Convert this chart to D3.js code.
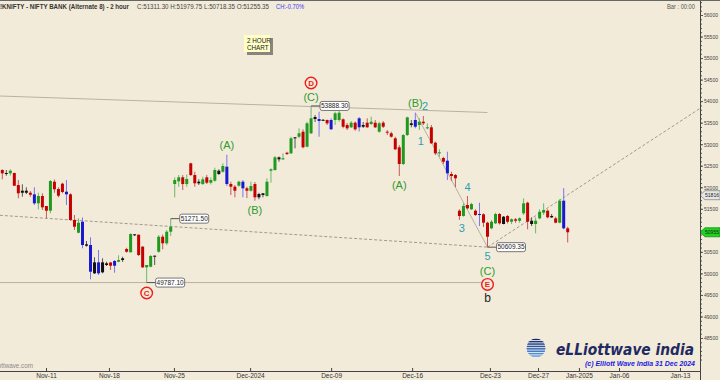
<!DOCTYPE html>
<html>
<head>
<meta charset="utf-8">
<script src="https://cdn.jsdelivr.net/npm/d3@7/dist/d3.min.js"></script>
<style>
  html, body { margin: 0; padding: 0; background: #f3ebd9; }
  svg { display: block; font-family: "Liberation Sans", Arial, sans-serif; }
</style>
</head>
<body>
<svg id="chart" width="720" height="380"></svg>
<script>
// 2-hour bars, [open, high, low, close]
const bars = [
  [52401, 52417, 52185, 52324], [52331, 52401, 52268, 52308], [52324, 52417, 52273, 52384], [52331, 52338, 52029, 52036],
  [52052, 52168, 51743, 51860], [51920, 52069, 51781, 51873], [51873, 51999, 51843, 51920], [51873, 51913, 51781, 51827],
  [51836, 51999, 51588, 51627], [51627, 51873, 51488, 51797], [51797, 51860, 51472, 51534], [51565, 51565, 51279, 51456],
  [51456, 52168, 51395, 52145], [52129, 52180, 51873, 51953], [51959, 51999, 51767, 51804], [52083, 52106, 51860, 51890],
  [51897, 52168, 51588, 51836], [51836, 51860, 51223, 51240], [51240, 51356, 51007, 51084], [50945, 51279, 50931, 51177],
  [51200, 51298, 50583, 50659], [50675, 50752, 50620, 50643], [50659, 50838, 49863, 50039], [50257, 50374, 49986, 50002],
  [50002, 50543, 49963, 50257], [50257, 50350, 50002, 50025], [50234, 50271, 50172, 50195], [50253, 50264, 50079, 50178],
  [50178, 50311, 50016, 50288], [50271, 50420, 50257, 50311], [50350, 50387, 50264, 50311], [50566, 50596, 50480, 50503],
  [50490, 50931, 50485, 50915], [50908, 50915, 50868, 50884], [50898, 50903, 50404, 50427], [50620, 50636, 50125, 50141],
  [50141, 50195, 49787.10, 50195], [50155, 50427, 50141, 50404], [50411, 50415, 50195, 50397], [50503, 50891, 50480, 50852],
  [50852, 50903, 50559, 50699], [50699, 51007, 50659, 50968], [50968, 51271.50, 50868, 51084],
  // Nov-25 gap up
  [52075, 52231, 51767, 52168], [52138, 52284, 52013, 52231], [52231, 52284, 51936, 52075], [52075, 52296, 52013, 52192],
  [52556, 52570, 52261, 52284], [52284, 52361, 52013, 52092], [52129, 52185, 52052, 52092], [52075, 52245, 52052, 52185],
  [52231, 52284, 52075, 52106], [52106, 52231, 52064, 52168], [52152, 52454, 52129, 52401], [52384, 52417, 52284, 52308],
  [52361, 52556, 52338, 52494], [52477, 52756, 52029, 52075], [52075, 52129, 51820, 52013], [52013, 52052, 51767, 51920],
  [52036, 52152, 52013, 52129], [52129, 52168, 51767, 51976], [51976, 52013, 51750, 51920], [51920, 52129, 51897, 52029],
  [52075, 52122, 51688, 51767], [51843, 51873, 51720, 51767], [51860, 51867, 51767, 51820], [51797, 52208, 51781, 52129],
  [52384, 52440, 52106, 52417], [52401, 52726, 52384, 52695], [52695, 52714, 52593, 52649], [52649, 52788, 52633, 52672],
  [52802, 52826, 52749, 52772], [52788, 53174, 52772, 53137], [53160, 53167, 52904, 53137], [53174, 53369, 53137, 53253],
  [53290, 53346, 52904, 52928], [52942, 53522, 52928, 53485], [53253, 53888.30, 53236, 53601], [53631, 53678, 53515, 53585],
  [53585, 53754, 53174, 53538], [53566, 53585, 53538, 53550], [53562, 53573, 53446, 53485], [53562, 53601, 53329, 53346],
  [53562, 53754, 53446, 53717], [53562, 53771, 53522, 53731], [53578, 53601, 53369, 53406], [53446, 53492, 53329, 53369],
  [53392, 53538, 53376, 53499], [53499, 53527, 53313, 53346], [53601, 53631, 53295, 53392], [53446, 53515, 53376, 53406],
  [53499, 53601, 53381, 53392], [53469, 53638, 53446, 53522], [53499, 53562, 53376, 53392], [53290, 53522, 53267, 53485],
  [53499, 53538, 53376, 53406], [53290, 53329, 53213, 53267], [53253, 53290, 53151, 53174], [53137, 53174, 52865, 52881],
  [52928, 52981, 52261, 52540], [52540, 53236, 52517, 53213], [53213, 53638, 53190, 53624], [53485, 53562, 53392, 53446],
  [53406, 53731, 53369, 53562], [53446, 53601, 53329, 53522], [53522, 53655, 53446, 53485], [53369, 53485, 53346, 53392],
  [53392, 53446, 53004, 53021], [53035, 53058, 52749, 52788], [52788, 52881, 52709, 52812], [52679, 52709, 52540, 52593],
  [52617, 52826, 52168, 52324], [52308, 52361, 52145, 52261], [52284, 52308, 52006, 52208], [51456, 51488, 51240, 51333],
  [51333, 51627, 51316, 51565], [51588, 51797, 51488, 51511], [51488, 51641, 51472, 51611], [51456, 51488, 51333, 51356],
  [51379, 51641, 51100, 51363], [51372, 51395, 51077, 51177], [51177, 51200, 50609.35, 50852], [51047, 51240, 51024, 51200],
  [51163, 51409, 51147, 51379], [51379, 51402, 51135, 51163], [51316, 51333, 51140, 51147], [51333, 51356, 51163, 51200],
  [51200, 51279, 51147, 51256], [51256, 51286, 51177, 51223], [51223, 51302, 51177, 51279], [51395, 51743, 51356, 51627],
  [51641, 51665, 51024, 51200], [51223, 51302, 51100, 51147], [51147, 51298, 50931, 51223], [51279, 51488, 51256, 51432],
  [51409, 51627, 51356, 51472], [51456, 51488, 51279, 51302], [51333, 51379, 51286, 51302], [51279, 51316, 51163, 51177],
  [51177, 51720, 51163, 51688], [51688, 51979.75, 51024, 51047], [51047, 51084, 50718.35, 50955]
];

// date axis, positions given in bar numbers
const dateLabels = ["Nov-11", "Nov-18", "Nov-25", "Dec-2024", "Dec-09", "Dec-16", "Dec-23", "Dec-27", "Jan-2025", "Jan-06", "Jan-13"];
const dateBars = [10.9, 26.6, 42.8, 61.8, 82, 102.2, 121.6, 133.6, 143.8, 153.8, 169];

const priceTicks = d3.range(48500, 56001, 500);
const minorTicks = d3.range(48000, 56400, 100);

// trend lines: [bar, price] -> [bar, price]
const solidLines = [
  [[-0.6, 54119], [121, 53736]],
  [[103, 53731], [121, 50609.35]],
  [[-0.6, 49787.10], [119.5, 49787.10]]
];
const dashedLines = [
  [[-0.6, 51349], [121, 50609.35]],
  [[121, 50609.35], [174, 53831]]
];

// price call-outs: [bar, price]
const callouts = [[77, 53888.30], [42, 51271.50], [36, 49787.10], [121, 50609.35]];

// wave counts: [bar, price, text]
const primaryWaves = [[77, 54421, "D"], [36, 49545, "C"], [121, 49745, "E"]];
const intermediateWaves = [
  [77, 54096, "(C)"], [56, 52981, "(A)"], [63, 51472, "(B)"], [103, 53956, "(B)"],
  [99, 52052, "(A)"], [121, 50055, "(C)"]
];
const minorWaves = [[105.4, 53887, "2"], [104.4, 53074, "1"], [116, 52006, "4"], [114.6, 51054, "3"], [121, 50404, "5"]];
const subWaves = [[121, 49428, "b"]];

const refPrice = 51816;
const lastPrice = 50955;

const W = 720, H = 380;
const plotRight = 700, plotBottom = 371;
const bg = "#f3ebd9";

const svg = d3.select("#chart");
svg.append("rect").attr("width", W).attr("height", H).attr("fill", bg);

const x = d3.scaleLinear().domain([0, bars.length - 1]).range([2.3, 567.7]);
const y = d3.scaleLinear().domain([48500, 56000]).range([338, 15]);

svg.append("clipPath").attr("id", "plot")
  .append("rect").attr("x", 0).attr("y", 0).attr("width", plotRight).attr("height", plotBottom);

const plot = svg.append("g").attr("clip-path", "url(#plot)");

// outside bars blue, inside bars black, otherwise up/down
function barColor(d, i) {
  if (i > 0) {
    const p = bars[i - 1];
    if (d[1] > p[1] && d[2] < p[2]) return "blue";
    if (d[1] <= p[1] && d[2] >= p[2]) return "black";
  }
  return d[3] >= d[0] ? "green" : "red";
}
const bodyFill = { green: "#1f9a1f", red: "#c40000", blue: "#1818d0", black: "#111" };
const wickFill = { green: "#6ab86a", red: "#c45a5a", blue: "#7777ee", black: "#555" };

// trend lines
const line = d3.line().x(d => x(d[0])).y(d => y(d[1]));
plot.selectAll(".solid").data(solidLines).enter().append("path")
  .attr("d", line).attr("fill", "none").attr("stroke", "#b9b1a3").attr("stroke-width", 1);
plot.selectAll(".dashed").data(dashedLines).enter().append("path")
  .attr("d", line).attr("fill", "none").attr("stroke", "#9f9a92").attr("stroke-width", 1)
  .attr("stroke-dasharray", "3,2");

// candles
const candle = plot.selectAll(".candle").data(bars).enter().append("g");
candle.append("line")
  .attr("x1", (d, i) => x(i)).attr("x2", (d, i) => x(i))
  .attr("y1", d => y(d[1])).attr("y2", d => y(d[2]))
  .attr("stroke", (d, i) => wickFill[barColor(d, i)]).attr("stroke-width", 1);
candle.append("rect")
  .attr("x", (d, i) => x(i) - 1.5).attr("width", 3)
  .attr("y", d => y(Math.max(d[0], d[3])))
  .attr("height", d => Math.max(1, Math.abs(y(d[0]) - y(d[3]))))
  .attr("fill", (d, i) => bodyFill[barColor(d, i)]);

// price call-outs
const fmt2 = d3.format(".2f");
const co = plot.selectAll(".callout").data(callouts).enter().append("g");
co.append("line")
  .attr("x1", d => x(d[0])).attr("x2", d => x(d[0]) + 9)
  .attr("y1", d => y(d[1])).attr("y2", d => y(d[1]))
  .attr("stroke", "#555").attr("stroke-width", 1);
co.append("rect")
  .attr("x", d => x(d[0]) + 9).attr("y", d => y(d[1]) - 4.5)
  .attr("width", 29).attr("height", 9).attr("rx", 2)
  .attr("fill", "#fff").attr("stroke", "#555").attr("stroke-width", 0.8);
co.append("text")
  .attr("x", d => x(d[0]) + 23.5).attr("y", d => y(d[1])).attr("dy", "0.35em")
  .attr("text-anchor", "middle").attr("font-size", 6.5).attr("fill", "#222")
  .text(d => fmt2(d[1]));

// wave labels
plot.selectAll(".iw").data(intermediateWaves).enter().append("text")
  .attr("x", d => x(d[0])).attr("y", d => y(d[1])).attr("dy", "0.35em")
  .attr("text-anchor", "middle").attr("font-size", 11).attr("fill", "#2e9a2e")
  .text(d => d[2]);
plot.selectAll(".mw").data(minorWaves).enter().append("text")
  .attr("x", d => x(d[0])).attr("y", d => y(d[1])).attr("dy", "0.35em")
  .attr("text-anchor", "middle").attr("font-size", 11).attr("fill", "#2a9fb0")
  .text(d => d[2]);
plot.selectAll(".sw").data(subWaves).enter().append("text")
  .attr("x", d => x(d[0])).attr("y", d => y(d[1])).attr("dy", "0.35em")
  .attr("text-anchor", "middle").attr("font-size", 12).attr("fill", "#222")
  .text(d => d[2]);
const pw = plot.selectAll(".pw").data(primaryWaves).enter().append("g")
  .attr("transform", d => `translate(${x(d[0])},${y(d[1])})`);
pw.append("circle").attr("r", 5.8).attr("fill", "none").attr("stroke", "#ee1c1c").attr("stroke-width", 1.4);
pw.append("text").attr("dy", "0.36em").attr("text-anchor", "middle")
  .attr("font-size", 8).attr("font-weight", "bold").attr("fill", "#ee1c1c").text(d => d[2]);

// "2 HOUR CHART" note
svg.append("rect").attr("x", 247).attr("y", 38).attr("width", 26).attr("height", 17).attr("fill", "#8a857c");
svg.append("rect").attr("x", 244).attr("y", 35).attr("width", 26).attr("height", 17).attr("fill", "#ffffc6");
svg.append("text").attr("x", 247).attr("y", 42.5).attr("font-size", 6.3).attr("fill", "#222").text("2 HOUR");
svg.append("text").attr("x", 247).attr("y", 50).attr("font-size", 6.3).attr("fill", "#222").text("CHART");

// right price axis (labels hidden under the price tags)
const tagged = [refPrice, lastPrice];
const axisTicks = priceTicks.filter(p => tagged.every(t => Math.abs(y(p) - y(t)) > 6));
svg.append("g").attr("transform", `translate(${plotRight},0)`)
  .call(d3.axisRight(y).tickValues(minorTicks).tickSize(2).tickFormat(""))
  .call(g => g.select(".domain").remove())
  .call(g => g.selectAll("line").attr("stroke", "#555"));
svg.append("g").attr("transform", `translate(${plotRight},0)`)
  .call(d3.axisRight(y).tickValues(axisTicks).tickSize(3).tickPadding(1).tickFormat(d3.format("d")))
  .call(g => g.select(".domain").remove())
  .call(g => g.selectAll("line").attr("stroke", "#555"))
  .call(g => g.selectAll("text").attr("font-size", 5.8).attr("fill", "#444")
    .attr("textLength", 14).attr("lengthAdjust", "spacingAndGlyphs")
    .attr("font-family", "'Liberation Sans', Arial, sans-serif"));

// price tags
function tag(price, fill, stroke) {
  const ty = y(price);
  svg.append("path")
    .attr("d", `M${plotRight},${ty} L${plotRight + 5},${ty - 4.5} L${W},${ty - 4.5} L${W},${ty + 4.5} L${plotRight + 5},${ty + 4.5} Z`)
    .attr("fill", fill).attr("stroke", stroke).attr("stroke-width", 0.8);
  svg.append("text").attr("x", plotRight + 5).attr("y", ty).attr("dy", "0.35em")
    .attr("font-size", 5.8).attr("fill", "#222")
    .attr("textLength", 14).attr("lengthAdjust", "spacingAndGlyphs").text(d3.format("d")(price));
}
tag(refPrice, "#e6e6e6", "#888");
tag(lastPrice, "#1fd41f", "#129012");

// bottom date axis
svg.append("g").attr("transform", `translate(0,${plotBottom})`)
  .call(d3.axisBottom(x).tickValues(dateBars).tickSizeInner(-3).tickSizeOuter(0).tickPadding(2)
    .tickFormat((d, i) => dateLabels[i]))
  .call(g => g.select(".domain").remove())
  .call(g => g.selectAll("line").attr("stroke", "#444"))
  .call(g => g.selectAll("text").attr("font-size", 6.5).attr("fill", "#333")
    .attr("font-family", "'Liberation Sans', Arial, sans-serif"));

// frame lines
svg.append("line").attr("x1", 0).attr("x2", plotRight + 1).attr("y1", plotBottom + 0.5).attr("y2", plotBottom + 0.5)
  .attr("stroke", "#444");
svg.append("line").attr("x1", plotRight + 0.5).attr("x2", plotRight + 0.5).attr("y1", 0).attr("y2", H)
  .attr("stroke", "#444");
svg.append("line").attr("x1", 0).attr("x2", W).attr("y1", 0.5).attr("y2", 0.5).attr("stroke", "#666");

// header
svg.append("text").attr("x", 0).attr("y", 8.5).attr("font-size", 7.2).attr("font-weight", "bold")
  .attr("fill", "#333").attr("textLength", 129).attr("lengthAdjust", "spacingAndGlyphs")
  .text("!KNIFTY - NIFTY BANK (Alternate 8) - 2 hour");
svg.append("text").attr("x", 137).attr("y", 8.5).attr("font-size", 6.5).attr("fill", "#444")
  .attr("textLength", 132).attr("lengthAdjust", "spacingAndGlyphs")
  .text("C:51311.30  H:51979.75  L:50718.35  O:51255.35");
svg.append("text").attr("x", 276).attr("y", 8.5).attr("font-size", 6.5).attr("fill", "#3a3aee")
  .attr("textLength", 28).attr("lengthAdjust", "spacingAndGlyphs").text("CH:-0.70%");
svg.append("text").attr("x", 667).attr("y", 8.5).attr("font-size", 6.5).attr("fill", "#555")
  .attr("textLength", 28).attr("lengthAdjust", "spacingAndGlyphs").text("Bar : 00:00");

// footer credits
svg.append("text").attr("x", 33).attr("y", 367.5).attr("text-anchor", "end").attr("font-size", 6.3)
  .attr("fill", "#8a8a8a").text("www.elliottwave.com");

const globe = svg.append("g");
globe.append("clipPath").attr("id", "globe").append("circle").attr("cx", 536).attr("cy", 348).attr("r", 9.5);
globe.append("circle").attr("cx", 536).attr("cy", 348).attr("r", 9.5).attr("fill", "#e8eef8");
const stripeColor = d3.interpolateRgb("#16235e", "#5d9ee0");
globe.selectAll(".stripe").data(d3.range(8)).enter().append("rect")
  .attr("clip-path", "url(#globe)")
  .attr("x", 526).attr("width", 20)
  .attr("y", i => 338.5 + i * 2.4).attr("height", 1.5)
  .attr("fill", i => stripeColor(i / 7));

svg.append("text").attr("x", 556).attr("y", 355).attr("font-size", 15).attr("font-weight", "bold")
  .attr("font-style", "italic").attr("font-family", "'DejaVu Sans', sans-serif").attr("fill", "#1f2a63")
  .attr("textLength", 138).attr("lengthAdjust", "spacingAndGlyphs").text("eLLiottwave india");
svg.append("text").attr("x", 585).attr("y", 366).attr("font-size", 7).attr("font-weight", "bold")
  .attr("font-style", "italic").attr("fill", "#1a1ae0")
  .attr("textLength", 110).attr("lengthAdjust", "spacingAndGlyphs").text("(c) Elliott Wave India 31 Dec 2024");
</script>
</body>
</html>
